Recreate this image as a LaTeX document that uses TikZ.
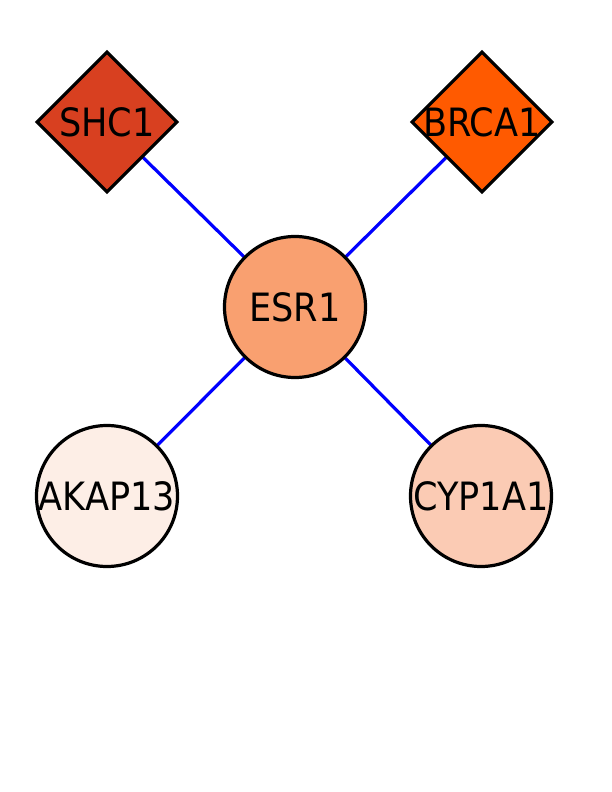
\documentclass[tikz,border=0pt]{standalone}
\usepackage{fontspec}
\setmainfont{DejaVu Sans Condensed}
\usetikzlibrary{shapes.geometric}
\definecolor{cSHC}{HTML}{D84020}
\definecolor{cBRCA}{HTML}{FF5A00}
\definecolor{cESR}{HTML}{F9A070}
\definecolor{cAKAP}{HTML}{FDEEE6}
\definecolor{cCYP}{HTML}{FBCBB4}
\tikzset{
  gene/.style={draw=black, line width=3.2bp, inner sep=0pt, minimum size=141bp},
  circgene/.style={gene, circle},
  diagene/.style={gene, diamond, aspect=1},
  lbl/.style={font=\fontsize{39bp}{41bp}\selectfont, text=black},
  edge/.style={draw=blue, line width=3.2bp}
}
\begin{document}
\begin{tikzpicture}[x=1bp, y=-1bp]
\useasboundingbox (0,0) rectangle (612,792);
\fill[white] (0,0) rectangle (612,792);
\coordinate (pSHC) at (107,122);
\coordinate (pBRCA) at (482,122);
\coordinate (pESR) at (295,307);
\coordinate (pAKAP) at (107,496);
\coordinate (pCYP) at (481,496);
\draw[edge] (pESR) -- (pSHC);
\draw[edge] (pESR) -- (pBRCA);
\draw[edge] (pESR) -- (pAKAP);
\draw[edge] (pESR) -- (pCYP);
\node[diagene, fill=cSHC] (shc) at (pSHC) {};
\node[diagene, fill=cBRCA] (brca) at (pBRCA) {};
\node[circgene, fill=cESR] (esr) at (pESR) {};
\node[circgene, fill=cAKAP] (akap) at (pAKAP) {};
\node[circgene, fill=cCYP] (cyp) at (pCYP) {};
\node[lbl] (tshc) at (shc.center) {SHC1};
\node[lbl] (tbrca) at (brca.center) {BRCA1};
\node[lbl] (tesr) at (esr.center) {ESR1};
\node[lbl] (takap) at (akap.center) {AKAP13};
\node[lbl] (tcyp) at (cyp.center) {CYP1A1};
\end{tikzpicture}
\end{document}
